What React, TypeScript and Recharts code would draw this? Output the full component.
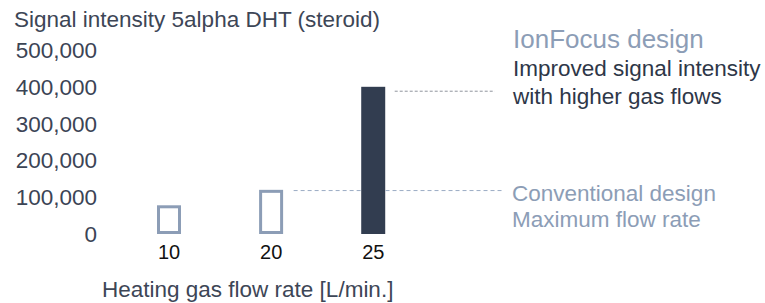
import React from "react";
import { Bar, BarChart, ReferenceLine, XAxis, YAxis } from "recharts";

// Heating gas flow rate categories and the measured signal for each.
const flowRates = ["10", "20", "25"];
const signal = [78000, 120000, 400000];
const designs = ["conventional", "conventional", "ionfocus"];
const yTicks = [0, 100000, 200000, 300000, 400000, 500000];

// Guide lines leading to the notes on the right (x in category slots, y in signal units).
// The lower guide runs behind the 25 L/min bar, so it is drawn as two pieces around it.
const guideY = [388000, 118000, 118000];
const guideFrom = [2.21, 1.22, 2.12];
const guideTo = [3.19, 1.88, 3.26];
const guideColor = ["#8f949c", "#9aabc4", "#9aabc4"];

const FONT = "'Liberation Sans', Arial, Helvetica, sans-serif";
const DARK = "#323d50";
const SLATE = "#8c9db6";

// Categories sit at evenly spaced slots 0, 1, 2 on a numeric axis so the guides can run past them.
const data = flowRates.map((f, i) => ({ slot: i, flow: f, signal: signal[i], design: designs[i] }));

// Outline bars are inset by half the stroke so they keep the same outer size as the solid one.
function BarShape(props: any) {
  const { x, y, width, height, design } = props;
  if (design === "ionfocus") {
    return <rect x={x} y={y} width={width} height={height} fill={DARK} />;
  }
  return (
    <rect
      x={x + 1.5}
      y={y + 1.5}
      width={width - 3}
      height={height - 3}
      fill="#fff"
      stroke={SLATE}
      strokeWidth={3}
    />
  );
}

const note = (top: number, left: number, size: number, color: string): React.CSSProperties => ({
  position: "absolute",
  top,
  left,
  fontSize: size,
  lineHeight: 1,
  color,
  whiteSpace: "nowrap",
  fontFamily: FONT,
});

export default function App() {
  return (
    <div style={{ position: "absolute", left: 0, top: 0, width: 765, height: 303, background: "#fff" }}>
      <BarChart
        width={765}
        height={303}
        data={data}
        margin={{ top: 50, right: 250, bottom: 34, left: 0 }}
      >
        <XAxis
          dataKey="slot"
          type="number"
          domain={[-0.5, 3.388]}
          ticks={[0, 1, 2]}
          tickFormatter={(v: number) => flowRates[v]}
          allowDataOverflow
          axisLine={false}
          tickLine={false}
          tickSize={0}
          tickMargin={11}
          height={35}
          tick={{ fontSize: 20, fill: "#111", fontFamily: FONT }}
        />
        <YAxis
          domain={[0, 500000]}
          ticks={yTicks}
          width={118}
          axisLine={false}
          tickLine={false}
          tickSize={0}
          tickMargin={21}
          tickFormatter={(v: number) => v.toLocaleString("en-US")}
          tick={{ fontSize: 22.5, fill: "#3b4455", fontFamily: FONT }}
        />
        {guideY.map((gy, i) => (
          <ReferenceLine
            key={i}
            segment={[
              { x: guideFrom[i], y: gy },
              { x: guideTo[i], y: gy },
            ]}
            stroke={guideColor[i]}
            strokeDasharray={i === 0 ? "3 2" : "4 3"}
            ifOverflow="visible"
          />
        ))}
        <Bar dataKey="signal" barSize={24} isAnimationActive={false} shape={<BarShape />} />
      </BarChart>

      <div style={note(9, 14, 22.5, "#3d4656")}>Signal intensity 5alpha DHT (steroid)</div>
      <div style={note(279.3, 102, 22.5, "#3d4656")}>Heating gas flow rate [L/min.]</div>

      <div style={note(26, 513, 26, "#8c9db6")}>IonFocus design</div>
      <div style={note(58, 513, 22.5, "#2e3748")}>Improved signal intensity</div>
      <div style={note(86, 513, 22.5, "#2e3748")}>with higher gas flows</div>

      <div style={note(183, 512, 22.5, "#8c9db6")}>Conventional design</div>
      <div style={note(209, 512, 22.5, "#8c9db6")}>Maximum flow rate</div>
    </div>
  );
}
